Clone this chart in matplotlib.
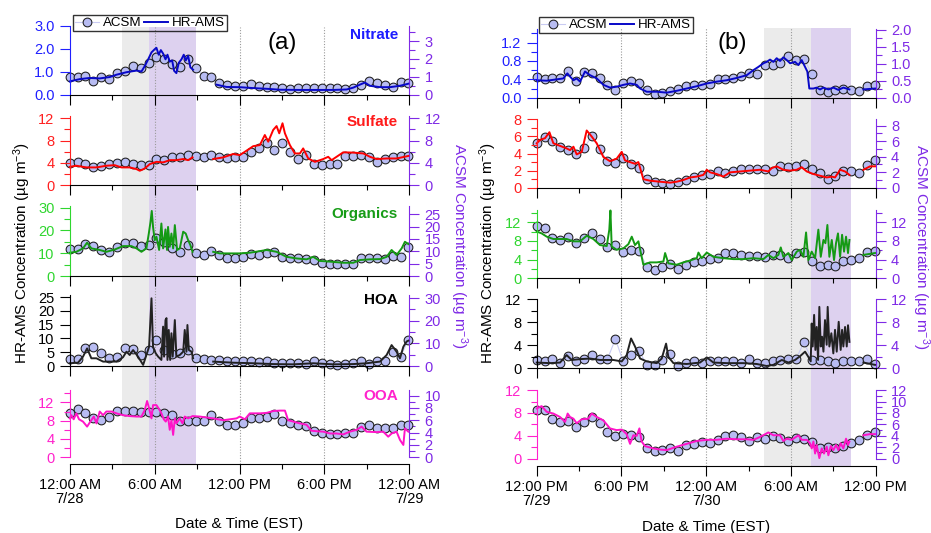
import numpy as np
import matplotlib
matplotlib.use("Agg")
import matplotlib.pyplot as plt
from matplotlib.ticker import MultipleLocator, FixedLocator, FormatStrFormatter, NullLocator

plt.rcParams.update({
    "font.family": ["Liberation Sans", "DejaVu Sans"],
    "mathtext.fontset": "custom",
    "mathtext.rm": "Liberation Sans",
    "mathtext.it": "Liberation Sans:italic",
    "mathtext.bf": "Liberation Sans:bold",
    "axes.linewidth": 0.8,
})

# ---------------------------------------------------------------- time axes
# hours since the start of each 24 h window
acsm_hours = [0.00, 0.56, 1.11, 1.67, 2.23, 2.78, 3.34, 3.90, 4.45, 5.01, 5.57,
              6.12, 6.68, 7.24, 7.79, 8.35, 8.90, 9.46, 10.02, 10.57, 11.13, 11.69,
              12.24, 12.80, 13.36, 13.91, 14.47, 15.03, 15.58, 16.14, 16.70, 17.25,
              17.81, 18.37, 18.92, 19.48, 20.04, 20.59, 21.15, 21.71, 22.26, 22.82,
              23.38, 23.93]
x_major = [0, 6, 12, 18, 24]
x_minor = [3, 9, 15, 21]
xlabels_a = ["12:00 AM\n7/28", "6:00 AM", "12:00 PM", "6:00 PM", "12:00 AM\n7/29"]
xlabels_b = ["12:00 PM\n7/29", "6:00 PM", "12:00 AM\n7/30", "6:00 AM", "12:00 PM"]
dotted_hours = [6, 12, 18]

# sampling periods
grey_a, purple_a = (3.67, 5.58), (5.58, 8.96)
grey_b, purple_b = (16.09, 19.40), (19.40, 22.25)

species = ["Nitrate", "Sulfate", "Organics", "HOA", "OOA"]

# ---------------------------------------------------------------- ACSM, 7/28
acsm_no3_a = [0.98, 0.98, 1.06, 0.78, 0.98, 0.91, 1.24, 1.35, 1.61, 1.48, 1.76, 2.09, 1.98,
              1.70, 1.57, 2.00, 1.48, 1.06, 0.98, 0.69, 0.56, 0.50, 0.52, 0.59, 0.50, 0.44,
              0.46, 0.37, 0.33, 0.39, 0.37, 0.37, 0.37, 0.37, 0.37, 0.33, 0.39, 0.56, 0.80,
              0.65, 0.56, 0.43, 0.74, 0.65]
acsm_so4_a = [4.06, 4.1, 3.9, 3.3, 3.5, 3.8, 4.06, 4.2, 3.9, 3.6, 3.6, 4.7, 4.5, 5.0, 5.1,
              5.4, 5.25, 5.1, 5.4, 5.1, 4.8, 5.1, 5.1, 6.0, 6.6, 7.5, 6.3, 7.6, 6.0, 4.7,
              5.4, 3.9, 3.6, 3.9, 3.8, 5.25, 5.25, 5.4, 5.1, 4.2, 4.7, 5.0, 5.25, 5.25]
acsm_org_a = [11.1, 11.0, 13.0, 12.1, 10.7, 9.7, 11.8, 13.4, 13.4, 12.1, 12.7, 15.5, 13.8,
              11.4, 9.6, 12.7, 9.3, 8.6, 10.0, 8.4, 7.5, 7.5, 7.9, 8.9, 8.6, 9.3, 9.6, 7.9,
              7.3, 7.3, 7.0, 6.6, 5.2, 4.9, 4.9, 4.9, 4.9, 7.3, 7.5, 7.3, 6.8, 8.2, 7.9, 11.8]
acsm_hoa_a = [3.1, 3.1, 7.8, 8.3, 5.6, 3.4, 3.8, 7.8, 7.4, 4.9, 7.1, 11.5, 7.1, 5.3, 5.9,
              7.1, 3.4, 3.1, 2.7, 2.7, 2.4, 2.4, 2.2, 2.2, 1.9, 2.2, 1.5, 1.2, 1.2, 1.2,
              0.9, 2.2, 1.2, 0.9, 0.4, 0.9, 1.2, 2.2, 0.9, 2.4, 2.4, 6.4, 4.1, 11.5]
acsm_ooa_a = [7.2, 7.75, 7.1, 6.4, 6.0, 6.6, 7.5, 7.5, 7.5, 7.4, 7.4, 7.4, 7.1, 6.8, 5.8,
              5.9, 5.8, 5.8, 6.8, 5.8, 5.2, 5.2, 5.6, 6.4, 6.4, 6.5, 7.0, 5.8, 5.5, 5.2,
              5.0, 4.3, 3.9, 3.85, 3.7, 4.0, 4.0, 4.9, 5.3, 4.8, 4.7, 4.7, 5.3, 5.2]

# ---------------------------------------------------------------- ACSM, 7/29-7/30
acsm_no3_b = [0.61, 0.55, 0.59, 0.59, 0.79, 0.49, 0.76, 0.73, 0.57, 0.37, 0.24, 0.42, 0.50,
              0.42, 0.22, 0.11, 0.13, 0.20, 0.27, 0.34, 0.37, 0.37, 0.40, 0.55, 0.55, 0.57,
              0.63, 0.73, 0.69, 0.96, 0.96, 1.02, 1.22, 1.12, 1.15, 0.69, 0.22, 0.18, 0.24,
              0.27, 0.22, 0.20, 0.34, 0.37]
acsm_so4_b = [5.8, 6.5, 6.0, 5.3, 4.9, 4.4, 5.1, 6.6, 5.0, 3.4, 3.2, 3.8, 3.1, 2.5, 1.1,
              0.77, 0.56, 0.43, 0.69, 1.0, 1.4, 1.6, 1.8, 2.1, 1.9, 2.15, 2.4, 2.4, 2.4,
              2.4, 2.2, 2.8, 2.7, 2.8, 3.05, 2.4, 1.9, 1.1, 1.5, 2.1, 2.1, 1.9, 2.9, 3.6]
acsm_org_b = [11.1, 10.7, 8.6, 8.2, 8.9, 7.5, 8.6, 9.6, 8.4, 6.6, 7.1, 5.7, 6.1, 5.9, 2.5,
              1.8, 2.5, 3.1, 1.9, 2.9, 3.4, 3.8, 4.1, 4.3, 5.4, 5.4, 5.0, 4.8, 4.8, 4.5,
              5.0, 4.9, 4.3, 5.4, 5.7, 3.8, 2.6, 2.9, 2.6, 3.6, 3.9, 4.3, 5.7, 5.9]
acsm_hoa_b = [1.45, 1.3, 1.6, 1.0, 2.1, 1.3, 1.6, 2.3, 1.6, 1.6, 5.1, 1.2, 2.3, 3.1, 0.6,
              0.6, 1.45, 2.5, 0.4, 0.9, 1.2, 1.0, 1.3, 1.2, 1.2, 1.2, 1.0, 1.6, 1.0, 0.9,
              1.3, 1.45, 1.6, 1.7, 4.5, 1.45, 1.45, 1.2, 1.0, 1.3, 1.2, 1.2, 1.7, 0.75]
acsm_ooa_b = [8.6, 8.5, 6.9, 6.45, 6.6, 5.5, 6.45, 7.3, 6.3, 4.7, 4.0, 4.4, 4.1, 3.8, 1.8,
              1.3, 1.5, 1.8, 1.3, 2.4, 2.6, 3.0, 2.8, 3.3, 4.0, 4.1, 3.8, 3.1, 3.8, 3.4,
              4.0, 3.7, 3.1, 3.7, 3.4, 3.0, 1.9, 2.0, 1.8, 2.2, 2.7, 3.3, 4.2, 4.7]

# ---------------------------------------------------------------- HR-AMS (hour, value); None = no data
hr_no3_a = [(0.00, 0.59), (0.71, 0.69), (1.41, 0.74), (2.12, 0.72), (2.83, 0.78), (3.30, 0.88),
            (4.01, 0.99), (4.72, 1.06), (5.07, 1.02), (5.30, 1.25), (5.54, 1.54), (5.78, 1.85),
            (6.01, 1.99), (6.13, 2.05), (6.29, 1.75), (6.44, 1.95), (6.60, 1.80), (6.77, 1.55),
            (6.91, 1.75), (7.07, 1.45), (7.24, 1.50), (7.38, 1.05), (7.54, 0.95), (7.71, 1.40),
            (7.90, 1.55), (8.06, 1.75), (8.20, 1.50), (8.37, 1.70), (8.53, 1.20), (8.72, 1.10),
            None,
            (10.37, 0.45), (11.08, 0.35), (12.02, 0.34), (12.97, 0.30), (13.91, 0.27),
            (14.85, 0.23), (16.27, 0.22), (17.45, 0.22), (18.63, 0.22), (19.57, 0.24),
            (20.04, 0.32), (20.51, 0.45), (20.86, 0.54), (21.22, 0.40), (21.93, 0.34),
            (22.63, 0.34), (23.34, 0.40), (23.93, 0.49)]
hr_so4_a = [(0.00, 3.3), (0.47, 3.5), (1.18, 3.2), (1.89, 3.2), (2.59, 3.5), (3.18, 3.6),
            (3.65, 3.2), (4.24, 3.2), (4.72, 2.9), (4.95, 2.6), (5.30, 3.0), (5.66, 3.8),
            (6.13, 4.2), (6.60, 4.1), (7.07, 4.5), (7.54, 4.5), (8.02, 4.7), (8.37, 4.5),
            (8.68, 5.0),
            None,
            (10.14, 4.7), (10.85, 5.0), (11.55, 5.6), (12.02, 5.4), (12.50, 6.2), (12.97, 7.0),
            (13.44, 7.2), (13.79, 9.0), (14.03, 7.8), (14.38, 9.9), (14.62, 10.6), (14.81, 9.3),
            (15.04, 11.1), (15.21, 9.3), (15.56, 7.2), (15.91, 5.7), (16.27, 5.7), (16.50, 6.6),
            (16.86, 4.8), (17.33, 4.2), (17.92, 4.7), (18.27, 5.1), (18.51, 4.5), (18.86, 5.1),
            (19.33, 5.9), (20.04, 5.85), (20.75, 5.7), (21.22, 5.1), (21.69, 4.7), (22.40, 4.8),
            (23.10, 4.8), (23.93, 5.25)]
hr_org_a = [(0.00, 10.2), (0.47, 10.6), (0.94, 12.1), (1.23, 14.6), (1.53, 12.1), (2.12, 11.4),
            (2.59, 10.6), (3.18, 11.6), (3.77, 13.1), (4.36, 13.1), (4.72, 12.1), (5.07, 10.6),
            (5.42, 12.1), (5.59, 18.6), (5.71, 23.7), (5.80, 28.5), (5.89, 21.5), (6.01, 15.7),
            (6.13, 17.2), (6.32, 11.4), (6.48, 23.0), (6.60, 12.1), (6.77, 20.4), (6.88, 11.4),
            (6.95, 21.5), (7.07, 12.8), (7.19, 18.6), (7.31, 12.1), (7.43, 22.3), (7.59, 11.4),
            (7.78, 12.1), (8.02, 19.4), (8.20, 18.6), (8.37, 15.7), (8.53, 13.5), (8.68, 10.6),
            None,
            (10.14, 10.6), (10.61, 9.9), (11.32, 9.9), (12.02, 9.9), (12.73, 10.2), (13.44, 10.9),
            (13.91, 11.4), (14.62, 10.6), (15.32, 8.4), (16.03, 7.7), (16.74, 7.3), (17.21, 8.4),
            (17.68, 6.6), (18.39, 6.3), (19.33, 5.8), (20.04, 5.8), (20.51, 7.0), (21.22, 7.3),
            (21.93, 7.4), (22.40, 8.4), (22.75, 11.4), (23.10, 9.2), (23.46, 12.1), (23.69, 15.0),
            (23.93, 14.0)]
hr_hoa_a = [(0.00, 1.0), (0.59, 1.2), (0.94, 3.4), (1.23, 6.4), (1.53, 2.8), (1.89, 2.8),
            (2.36, 1.6), (2.83, 1.6), (3.30, 1.6), (3.77, 3.2), (4.01, 5.2), (4.24, 4.0),
            (4.48, 5.8), (4.83, 3.4), (5.19, 0.4), (5.42, 4.0), (5.61, 7.0), (5.78, 24.6),
            (5.89, 7.0), (6.08, 4.6), (6.25, 3.4), (6.48, 2.2), (6.60, 14.3), (6.67, 3.4),
            (6.77, 16.7), (6.84, 17.4), (6.91, 2.2), (7.00, 13.1), (7.10, 2.2), (7.19, 11.9),
            (7.28, 3.4), (7.43, 16.7), (7.54, 3.4), (7.78, 4.0), (8.02, 5.2), (8.13, 13.1),
            (8.25, 5.2), (8.32, 14.9), (8.42, 5.8), (8.61, 5.2), (8.72, 2.8),
            None,
            (10.14, 1.6), (11.55, 1.2), (12.97, 1.0), (14.38, 0.7), (15.80, 0.6), (17.21, 1.0),
            (18.63, 0.6), (20.04, 0.7), (20.98, 1.0), (21.93, 1.6), (22.40, 4.0), (22.75, 7.6),
            (23.10, 5.2), (23.34, 2.8), (23.58, 7.0), (23.81, 8.9), (23.93, 9.2)]
hr_ooa_a = [(0.00, 8.5), (0.12, 9.2), (0.28, 8.3), (0.47, 9.6), (0.66, 8.3), (0.94, 7.8),
            (1.23, 6.7), (1.46, 7.8), (1.70, 8.9), (1.89, 7.4), (2.12, 10.0), (2.36, 9.2),
            (2.59, 10.0), (2.95, 10.0), (3.30, 9.6), (3.77, 9.2), (4.24, 9.0), (4.72, 8.9),
            (5.07, 8.9), (5.30, 10.3), (5.47, 12.3), (5.61, 10.7), (5.78, 8.5), (5.89, 11.4),
            (6.13, 11.4), (6.32, 10.5), (6.48, 9.6), (6.65, 8.3), (6.79, 7.8), (6.95, 8.9),
            (7.07, 6.0), (7.19, 8.1), (7.31, 4.9), (7.43, 8.5), (7.54, 7.4), (7.78, 8.5),
            (7.97, 7.4), (8.13, 8.9), (8.37, 8.5), (8.68, 9.0), (9.19, 8.9), (10.14, 8.5),
            (10.85, 8.1), (11.32, 8.3), (11.79, 8.5), (12.02, 8.9), (12.38, 8.3), (12.73, 9.6),
            (13.44, 9.6), (13.91, 9.7), (14.38, 10.1), (14.85, 10.2), (15.21, 10.2), (15.44, 8.1),
            (15.80, 7.8), (16.27, 7.4), (16.74, 7.1), (17.09, 5.8), (17.45, 5.7), (17.92, 5.6),
            (18.39, 5.2), (18.86, 5.2), (19.33, 5.0), (19.80, 5.6), (20.28, 6.0), (20.63, 6.7),
            (20.98, 5.6), (21.69, 5.5), (22.16, 5.6), (22.51, 4.5), (22.75, 5.2), (23.10, 5.6),
            (23.34, 3.8), (23.58, 2.7), (23.69, 6.3), (23.93, 5.6)]

hr_no3_b = [(0.00, 0.38), (0.71, 0.37), (1.42, 0.40), (1.89, 0.42), (2.17, 0.53), (2.36, 0.46),
            (2.60, 0.38), (2.83, 0.42), (3.07, 0.35), (3.42, 0.57), (3.78, 0.49), (4.25, 0.42),
            (4.72, 0.28), (5.19, 0.22), (5.66, 0.24), (6.14, 0.28), (6.61, 0.31), (7.08, 0.28),
            (7.32, 0.20), (7.79, 0.13), (8.50, 0.13), (9.20, 0.11), (9.91, 0.15), (10.62, 0.20),
            (11.33, 0.25), (12.04, 0.31), (12.74, 0.35), (13.45, 0.38), (14.16, 0.43),
            (14.87, 0.49), (15.34, 0.60), (15.69, 0.67), (16.05, 0.75), (16.28, 0.78),
            (16.52, 0.83), (16.76, 0.78), (16.99, 0.86), (17.23, 0.80), (17.46, 0.88),
            (17.70, 0.82), (17.94, 0.75), (18.29, 0.78), (18.53, 0.71), (18.76, 0.82),
            (19.00, 0.67), (19.16, 0.57), (19.30, 0.20), (19.59, 0.20), (19.82, 0.22),
            (20.06, 0.18), (20.30, 0.22), (20.65, 0.18), (21.00, 0.22), (21.36, 0.17),
            (21.71, 0.22), (22.14, 0.18),
            None,
            (23.13, 0.18), (23.95, 0.20)]
hr_so4_b = [(0.00, 5.2), (0.24, 5.6), (0.59, 5.8), (0.90, 6.5), (1.18, 5.2), (1.65, 4.9),
            (2.12, 4.6), (2.36, 4.4), (2.60, 4.8), (2.83, 3.9), (3.19, 4.2), (3.54, 6.7),
            (3.89, 6.0), (4.25, 5.2), (4.72, 3.6), (5.19, 3.1), (5.66, 3.4), (6.02, 4.2),
            (6.25, 3.2), (6.61, 3.0), (6.96, 2.8), (7.20, 3.0), (7.55, 1.0), (8.02, 0.82),
            (8.73, 0.70), (9.44, 0.59), (9.91, 0.70), (10.38, 0.90), (10.86, 1.2), (11.33, 1.3),
            (11.80, 1.5), (12.04, 2.1), (12.27, 1.8), (12.74, 1.6), (13.22, 1.3), (13.69, 1.8),
            (14.40, 1.9), (15.10, 2.0), (15.81, 2.1), (16.40, 1.9), (16.64, 2.3), (16.99, 2.5),
            (17.46, 2.1), (17.94, 2.0), (18.41, 2.1), (18.76, 2.4), (19.12, 1.9), (19.59, 1.6),
            (20.06, 1.4), (20.53, 1.2), (20.89, 1.3), (21.12, 1.2), (21.48, 2.1), (21.83, 1.9),
            (22.14, 1.5),
            None,
            (23.13, 2.1), (23.60, 2.5), (23.95, 2.5)]
hr_org_b = [(0.00, 10.0), (0.35, 9.6), (0.71, 8.9), (1.18, 8.4), (1.65, 8.4), (2.12, 8.4),
            (2.60, 7.9), (3.07, 7.9), (3.54, 9.1), (4.01, 8.4), (4.48, 7.1), (4.96, 6.9),
            (5.14, 10.4), (5.22, 14.5), (5.31, 6.8), (5.66, 6.1), (6.14, 6.4), (6.49, 7.3),
            (6.73, 8.9), (6.96, 7.1), (7.20, 7.9), (7.43, 4.6), (7.55, 2.9), (8.02, 3.4),
            (8.50, 3.4), (8.97, 3.6), (9.09, 5.4), (9.32, 3.2), (9.91, 2.9), (10.38, 3.4),
            (10.86, 3.8), (11.33, 4.3), (11.45, 5.5), (11.68, 4.3), (12.04, 5.5), (12.51, 4.6),
            (13.22, 4.3), (13.92, 4.1), (14.63, 4.1), (15.34, 4.3), (16.05, 4.1), (16.40, 5.0),
            (16.76, 4.3), (17.11, 5.0), (17.28, 6.6), (17.46, 4.6), (17.82, 5.4), (18.05, 3.9),
            (18.41, 5.7), (18.64, 6.1), (18.88, 4.6), (19.07, 9.8), (19.23, 3.9), (19.47, 5.7),
            (19.71, 4.3), (19.94, 10.4), (20.11, 4.6), (20.30, 8.2), (20.44, 7.5), (20.58, 11.4),
            (20.72, 4.6), (20.89, 8.2), (21.05, 3.9), (21.19, 7.5), (21.33, 9.6), (21.48, 4.6),
            (21.62, 9.3), (21.76, 5.7), (21.90, 8.9), (22.04, 5.4), (22.14, 8.2),
            None,
            (23.13, 5.0), (23.95, 5.4)]
hr_hoa_b = [(0.00, 1.0), (0.94, 0.9), (1.65, 1.0), (2.12, 2.3), (2.48, 1.45), (3.07, 1.6),
            (3.78, 1.7), (4.48, 1.45), (5.43, 1.45), (6.02, 1.2), (6.37, 2.3), (6.68, 5.2),
            (6.96, 3.8), (7.32, 1.7), (7.79, 1.2), (8.50, 0.9), (8.85, 1.7), (9.16, 4.3),
            (9.32, 2.0), (9.68, 0.9), (10.62, 0.75), (11.56, 1.0), (12.04, 1.9), (12.51, 1.0),
            (13.45, 0.9), (14.63, 0.9), (15.58, 0.75), (16.28, 0.4), (16.76, 0.6), (17.35, 1.45),
            (17.82, 1.0), (18.29, 1.45), (18.64, 2.1), (19.00, 2.9), (19.23, 2.0), (19.40, 1.2),
            (19.47, 7.8), (19.54, 3.8), (19.64, 9.3), (19.73, 3.2), (19.82, 7.2), (19.92, 1.45),
            (20.01, 10.7), (20.11, 3.8), (20.20, 5.5), (20.30, 2.9), (20.41, 8.4), (20.53, 4.1),
            (20.60, 10.7), (20.72, 3.8), (20.86, 6.1), (21.00, 2.6), (21.12, 6.7), (21.24, 2.9),
            (21.38, 8.1), (21.52, 3.2), (21.62, 6.7), (21.71, 3.8), (21.83, 7.2), (21.95, 3.8),
            (22.04, 7.5), (22.14, 4.6),
            None,
            (23.13, 1.0), (23.95, 0.6)]
hr_ooa_b = [(0.00, 8.8), (0.35, 9.2), (0.71, 8.2), (1.18, 7.9), (1.65, 7.3), (2.01, 6.45),
            (2.19, 7.9), (2.36, 7.3), (2.60, 7.0), (2.83, 6.2), (3.19, 6.9), (3.66, 7.0),
            (3.89, 7.9), (4.25, 7.3), (4.72, 6.7), (5.19, 5.3), (5.66, 5.0), (6.02, 5.1),
            (6.37, 4.3), (6.61, 2.6), (6.84, 4.1), (7.08, 4.0), (7.27, 5.3), (7.43, 3.0),
            (7.67, 2.2), (8.26, 1.8), (8.73, 1.6), (9.20, 1.5), (9.91, 2.1), (10.62, 2.6),
            (11.33, 3.1), (12.04, 3.3), (12.74, 3.3), (13.45, 3.5), (14.16, 3.4), (14.87, 3.4),
            (15.34, 3.3), (15.81, 3.8), (16.40, 4.6), (16.76, 4.1), (17.23, 4.1), (17.46, 3.1),
            (17.70, 3.5), (18.05, 3.3), (18.53, 4.1), (18.76, 3.3), (19.12, 3.3), (19.35, 2.7),
            (19.47, 1.8), (19.59, 3.0), (19.71, 0.9), (19.82, 2.4), (20.01, 0.1), (20.18, 1.8),
            (20.34, 0.9), (20.53, 2.1), (20.65, 0.6), (20.82, 2.2), (21.00, 1.5), (21.19, 2.4),
            (21.36, 1.5), (21.52, 2.7), (21.71, 1.8), (21.90, 3.5), (22.04, 2.4), (22.14, 3.0),
            None,
            (23.13, 4.1), (23.60, 4.3), (23.95, 4.3)]

# ---------------------------------------------------------------- styling
W, H = 931, 533
PURPLE = "#7f2ae6"
MARK_FACE = "#b8bcf2"
MARK_LINE = "#c9cbf3"

# species: (axis colour, HR-AMS line colour, title colour)
colours = {
    "Nitrate": ("#2020ff", "#0808c8", "#1c1cff"),
    "Sulfate": ("#ff2020", "#ff0000", "#ff1a1a"),
    "Organics": ("#2fd62f", "#149a14", "#169c16"),
    "HOA": ("#000000", "#222222", "#000000"),
    "OOA": ("#ff22cc", "#ff14c8", "#ff22cc"),
}


def fig_box(x0, x1, ytop, ybot):
    return [x0 / W, 1 - ybot / H, (x1 - x0) / W, (ybot - ytop) / H]


def unpack(pairs):
    t = np.array([np.nan if p is None else p[0] for p in pairs])
    v = np.array([np.nan if p is None else p[1] for p in pairs])
    return t, v


panels = [
    dict(x0=69.7, x1=409.3, shade_top=27, shade_bot=464, grey=grey_a, purple=purple_a,
         rows=[(25.7, 95.0), (116.0, 185.3), (205.7, 276.0), (295.0, 366.0), (390.0, 457.3)],
         acsm=[acsm_no3_a, acsm_so4_a, acsm_org_a, acsm_hoa_a, acsm_ooa_a],
         hr=[hr_no3_a, hr_so4_a, hr_org_a, hr_hoa_a, hr_ooa_a],
         # (left top, major, minor, fmt, right top, major, minor, fmt)
         axes=[(3.01, 1.0, None, "%.1f", 3.85, 1, 0.5, "%d"),
               (12.4, 4, 2, "%d", 12.4, 4, 2, "%d"),
               (30.8, 10, 5, "%d", 28.5, 5, None, "%d"),
               (25.8, 5, None, "%d", 31.4, 10, 5, "%d"),
               (14.7, 4, 2, "%d", 10.9, 2, 1, "%d")],
         xlabels=xlabels_a, tag="(a)", tag_xy=(282, 43), legend_xy=(73, 15),
         ylab_left=(22, 253), ylab_right=(459, 246), xlab_y=528, titles=True),
    dict(x0=536.7, x1=875.7, shade_top=28, shade_bot=466, grey=grey_b, purple=purple_b,
         rows=[(29.3, 97.7), (119.3, 187.7), (210.0, 278.3), (299.3, 368.3), (390.0, 458.7)],
         acsm=[acsm_no3_b, acsm_so4_b, acsm_org_b, acsm_hoa_b, acsm_ooa_b],
         hr=[hr_no3_b, hr_so4_b, hr_org_b, hr_hoa_b, hr_ooa_b],
         axes=[(1.49, 0.4, 0.2, "%.1f", 2.01, 0.5, 0.25, "%.1f"),
               (8.01, 2, 1, "%d", 8.8, 2, 1, "%d"),
               (14.6, 4, 2, "%d", 14.6, 4, 2, "%d"),
               (12.02, 4, 2, "%d", 12.02, 4, 2, "%d"),
               (12.02, 4, 2, "%d", 12.02, 2, 1, "%d")],
         xlabels=xlabels_b, tag="(b)", tag_xy=(732, 43), legend_xy=(539, 17),
         ylab_left=(488, 253), ylab_right=(921, 247), xlab_y=531, titles=False),
]

title_y = [35, 122, 214, 300, 396]

fig = plt.figure(figsize=(W / 100, H / 100), dpi=100)

for P in panels:
    # shaded periods and dotted hour markers behind the stacked panels
    bg = fig.add_axes(fig_box(P["x0"], P["x1"], P["shade_top"], P["shade_bot"]), zorder=-1)
    bg.set_xlim(0, 24)
    bg.set_ylim(0, 1)
    bg.axis("off")
    bg.axvspan(*P["grey"], color="#ebebeb", lw=0)
    bg.axvspan(*P["purple"], color="#ddd1ef", lw=0)
    for h in dotted_hours:
        bg.axvline(h, color="#9a9a9a", lw=0.8, ls=(0, (1, 1.5)))

    first_handles = None
    n = len(species)
    for i, name in enumerate(species):
        ytop, ybot = P["rows"][i]
        axc, linec, titlec = colours[name]
        ltop, lmaj, lmin, lfmt, rtop, rmaj, rmin, rfmt = P["axes"][i]

        ax = fig.add_axes(fig_box(P["x0"], P["x1"], ytop, ybot))
        tw = ax.twinx()
        ax.set_zorder(tw.get_zorder() + 1)
        ax.patch.set_visible(False)
        tw.patch.set_visible(False)

        h_acsm, = tw.plot(acsm_hours, P["acsm"][i], "-o", color=MARK_LINE, lw=0.8,
                          ms=6.3, mfc=MARK_FACE, mec="#1c1c1c", mew=0.75, clip_on=False)
        t, v = unpack(P["hr"][i])
        h_hr, = ax.plot(t, v, color=linec, lw=1.4, clip_on=False)
        if first_handles is None:
            first_handles = (h_acsm, h_hr)

        ax.set_xlim(0, 24)
        ax.set_ylim(0, ltop)
        tw.set_ylim(0, rtop)

        # spines
        for s in ("top", "right"):
            ax.spines[s].set_visible(False)
        ax.spines["left"].set_color(axc)
        ax.spines["bottom"].set_color("black")
        for s in ("top", "left", "bottom"):
            tw.spines[s].set_visible(False)
        tw.spines["right"].set_color(PURPLE)

        # y ticks
        ax.yaxis.set_major_locator(MultipleLocator(lmaj))
        ax.yaxis.set_minor_locator(MultipleLocator(lmin) if lmin else NullLocator())
        ax.yaxis.set_major_formatter(FormatStrFormatter(lfmt))
        tw.yaxis.set_major_locator(MultipleLocator(rmaj))
        tw.yaxis.set_minor_locator(MultipleLocator(rmin) if rmin else NullLocator())
        tw.yaxis.set_major_formatter(FormatStrFormatter(rfmt))
        ax.tick_params(axis="y", which="both", direction="out", color=axc,
                       labelcolor=axc, labelsize=10.5, width=0.8, pad=4)
        ax.tick_params(axis="y", which="major", length=7)
        ax.tick_params(axis="y", which="minor", length=4)
        tw.tick_params(axis="y", which="both", direction="out", color=PURPLE,
                       labelcolor=PURPLE, labelsize=10.5, width=0.8, pad=4)
        tw.tick_params(axis="y", which="major", length=7)
        tw.tick_params(axis="y", which="minor", length=4)

        # x ticks
        ax.xaxis.set_major_locator(FixedLocator(x_major))
        ax.xaxis.set_minor_locator(FixedLocator(x_minor))
        ax.tick_params(axis="x", which="both", direction="out", width=0.8,
                       labelsize=10.5, pad=3)
        ax.tick_params(axis="x", which="major", length=7)
        ax.tick_params(axis="x", which="minor", length=3.5)
        if i == n - 1:
            ax.spines["bottom"].set_position(("outward", 5))
            ax.set_xticklabels(P["xlabels"], linespacing=1.0)
        else:
            ax.tick_params(axis="x", labelbottom=False)

        if P["titles"]:
            fig.text(398 / W, 1 - title_y[i] / H, name, ha="right", va="center",
                     fontsize=11, fontweight="bold", color=titlec)

    fig.legend(first_handles, ["ACSM", "HR-AMS"], loc="upper left",
               bbox_to_anchor=(P["legend_xy"][0] / W, 1 - P["legend_xy"][1] / H),
               ncol=2, fontsize=9.6, frameon=True, fancybox=False, edgecolor="black",
               facecolor="none", borderpad=0.15, borderaxespad=0,
               handlelength=1.8, handletextpad=0.3, columnspacing=0.2, numpoints=1)

    fig.text(P["tag_xy"][0] / W, 1 - P["tag_xy"][1] / H, P["tag"], ha="center",
             va="center", fontsize=17.5)
    fig.text(P["ylab_left"][0] / W, 1 - P["ylab_left"][1] / H,
             "HR-AMS Concentration (µg m$^{-3}$)", rotation=90, ha="center",
             va="center", fontsize=11)
    fig.text(P["ylab_right"][0] / W, 1 - P["ylab_right"][1] / H,
             "ACSM Concentration (µg m$^{-3}$)", rotation=270, ha="center",
             va="center", fontsize=11, color=PURPLE)
    fig.text((P["x0"] + P["x1"]) / 2 / W, 1 - P["xlab_y"] / H, "Date & Time (EST)",
             ha="center", va="baseline", fontsize=11)

fig.savefig("out.png", dpi=100)
